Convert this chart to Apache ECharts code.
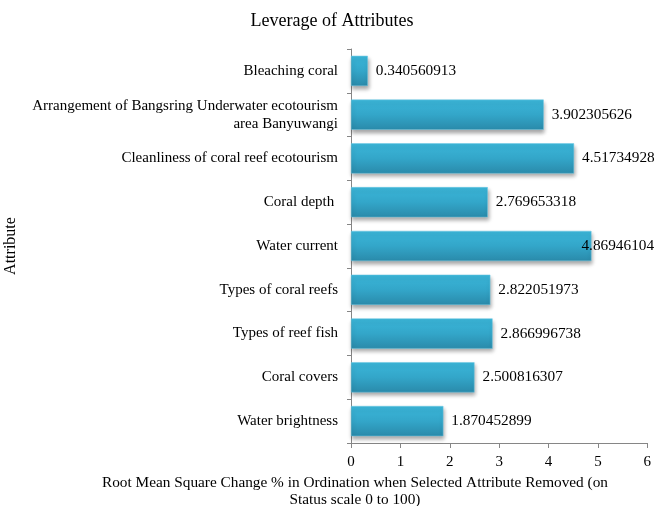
<!DOCTYPE html>
<html><head><meta charset="utf-8">
<script src="https://cdn.jsdelivr.net/npm/echarts@6/dist/echarts.min.js"></script>
<style>html,body{margin:0;padding:0;background:#fff}#c{width:654px;height:506px}</style>
</head><body><div id="c"></div>
<script>
const categories = [
  "Water brightness",
  "Coral covers",
  "Types of reef fish",
  "Types of coral reefs",
  "Water current",
  "Coral depth ",
  "Cleanliness of coral reef ecotourism",
  "Arrangement of Bangsring Underwater ecotourism\narea Banyuwangi",
  "Bleaching coral"
];
const values = [1.870452899, 2.500816307, 2.866996738, 2.822051973, 4.86946104, 2.769653318, 4.51734928, 3.902305626, 0.340560913];
const valueLabels = ["1.870452899","2.500816307","2.866996738","2.822051973","4.86946104","2.769653318","4.51734928","3.902305626","0.340560913"];
const xTicks = [0,1,2,3,4,5,6];

const F = "'Liberation Serif','Times New Roman',serif";
const chart = echarts.init(document.getElementById('c'));

const seriesData = values.map((v, i) => {
  const item = {value: v};
  // label that would overflow the plot is pulled back to the left (as in the original)
  if (v > 4.7) item.label = {offset: [-18, 0]};
  return item;
});

chart.setOption({
  animation: false,
  title: [
    {text: "Leverage of Attributes", left: 327, top: 7, textAlign: 'center',
     textStyle: {fontFamily: F, fontSize: 18, fontWeight: 'normal', color: '#000'}},
    {text: "Root Mean Square Change % in Ordination when Selected Attribute Removed (on\nStatus scale 0 to 100)",
     left: 350, top: 469, textAlign: 'center',
     textStyle: {fontFamily: F, fontSize: 15.3, fontWeight: 'normal', color: '#000', lineHeight: 17}}
  ],
  grid: {left: 351, right: 3, top: 49, bottom: 63, containLabel: false},
  xAxis: {
    type: 'value', min: 0, max: 6, interval: 1,
    axisLine: {show: true, lineStyle: {color: '#868686'}},
    axisTick: {show: true, length: 5, lineStyle: {color: '#868686'}},
    splitLine: {show: false},
    axisLabel: {fontFamily: F, fontSize: 15, color: '#000', margin: 12,
      formatter: v => xTicks.includes(v) ? String(v) : ''}
  },
  yAxis: {
    type: 'category', data: categories,
    name: 'Attribute', nameLocation: 'middle', nameGap: 332, nameRotate: 90,
    nameTextStyle: {fontFamily: F, fontSize: 16, color: '#000'},
    axisLine: {show: true, lineStyle: {color: '#868686'}},
    axisTick: {show: true, length: 4, lineStyle: {color: '#868686'}},
    axisLabel: {fontFamily: F, fontSize: 15, color: '#000', margin: 13, align: 'right', lineHeight: 18}
  },
  series: [{
    type: 'bar', data: seriesData, barCategoryGap: '31%',
    itemStyle: {
      color: new echarts.graphic.LinearGradient(0,0,0,1,[
        {offset: 0, color: '#3bb6d9'},
        {offset: 0.5, color: '#33a6c9'},
        {offset: 1, color: '#2a8aaa'}
      ]),
      borderColor: '#6cc9e4', borderWidth: 0.5,
      shadowColor: 'rgba(0,0,0,0.35)', shadowBlur: 4, shadowOffsetY: 3, shadowOffsetX: 1
    },
    label: {show: true, position: 'right', distance: 8, fontFamily: F, fontSize: 15.3, color: '#000',
      formatter: p => valueLabels[p.dataIndex]}
  }]
});
</script></body></html>
